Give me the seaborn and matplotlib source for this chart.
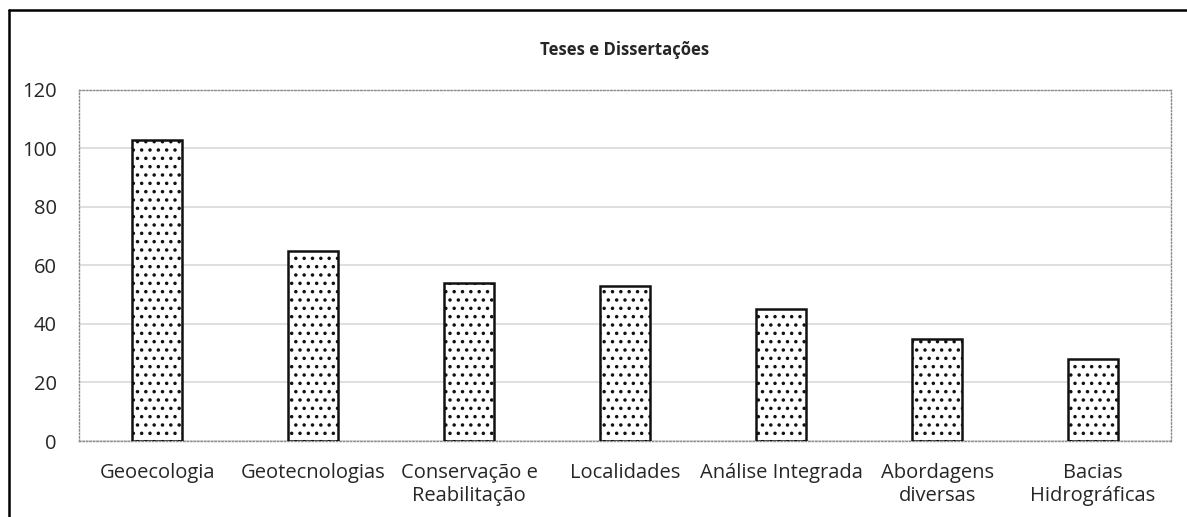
import pandas as pd
import seaborn as sns
import matplotlib.pyplot as plt
from matplotlib.lines import Line2D

# dados
categorias = ["Geoecologia", "Geotecnologias", "Conservação e\nReabilitação", "Localidades",
              "Análise Integrada", "Abordagens\ndiversas", "Bacias\nHidrográficas"]
valores = [103, 65, 54, 53, 45, 35, 28]
yticks = [0, 20, 40, 60, 80, 100, 120]

df = pd.DataFrame({"categoria": categorias, "valor": valores})

sns.set_style("white")
plt.rcParams['font.family'] = ['Open Sans', 'DejaVu Sans']
plt.rcParams['hatch.linewidth'] = 1.3

fig = plt.figure(figsize=(11.87, 5.17), dpi=100)
ax = fig.add_axes([0.0666, 0.147, 0.92, 0.679])

sns.barplot(data=df, x="categoria", y="valor", color="white", width=0.32,
            edgecolor="#111111", linewidth=1.8, hatch="..", ax=ax, zorder=3)

ax.set_ylim(0, 120)
ax.set_yticks(yticks)
ax.set_xlim(-0.5, len(categorias) - 0.5)
ax.grid(axis='y', color='#d9d9d9', linewidth=1.2, zorder=0)
ax.tick_params(axis='both', length=0, labelsize=14.5)
ax.tick_params(axis='y', pad=16)
ax.tick_params(axis='x', pad=16)
ax.set_xlabel("")
ax.set_ylabel("")
for s in ax.spines.values():
    s.set_color('#8a8a8a')
    s.set_linestyle((0, (1, 1.5)))
    s.set_linewidth(1.0)

fig.text(0.5265, 0.903, "Teses e Dissertações", ha='center', va='center',
         fontsize=12, fontweight='bold')

# moldura externa (cortada à direita e embaixo)
fig.add_artist(Line2D([0.0076, 0.0076], [0, 0.981], color='black', linewidth=1.8, transform=fig.transFigure))
fig.add_artist(Line2D([0.0076, 1.0], [0.981, 0.981], color='black', linewidth=1.8, transform=fig.transFigure))

fig.savefig("out.png", dpi=100)
